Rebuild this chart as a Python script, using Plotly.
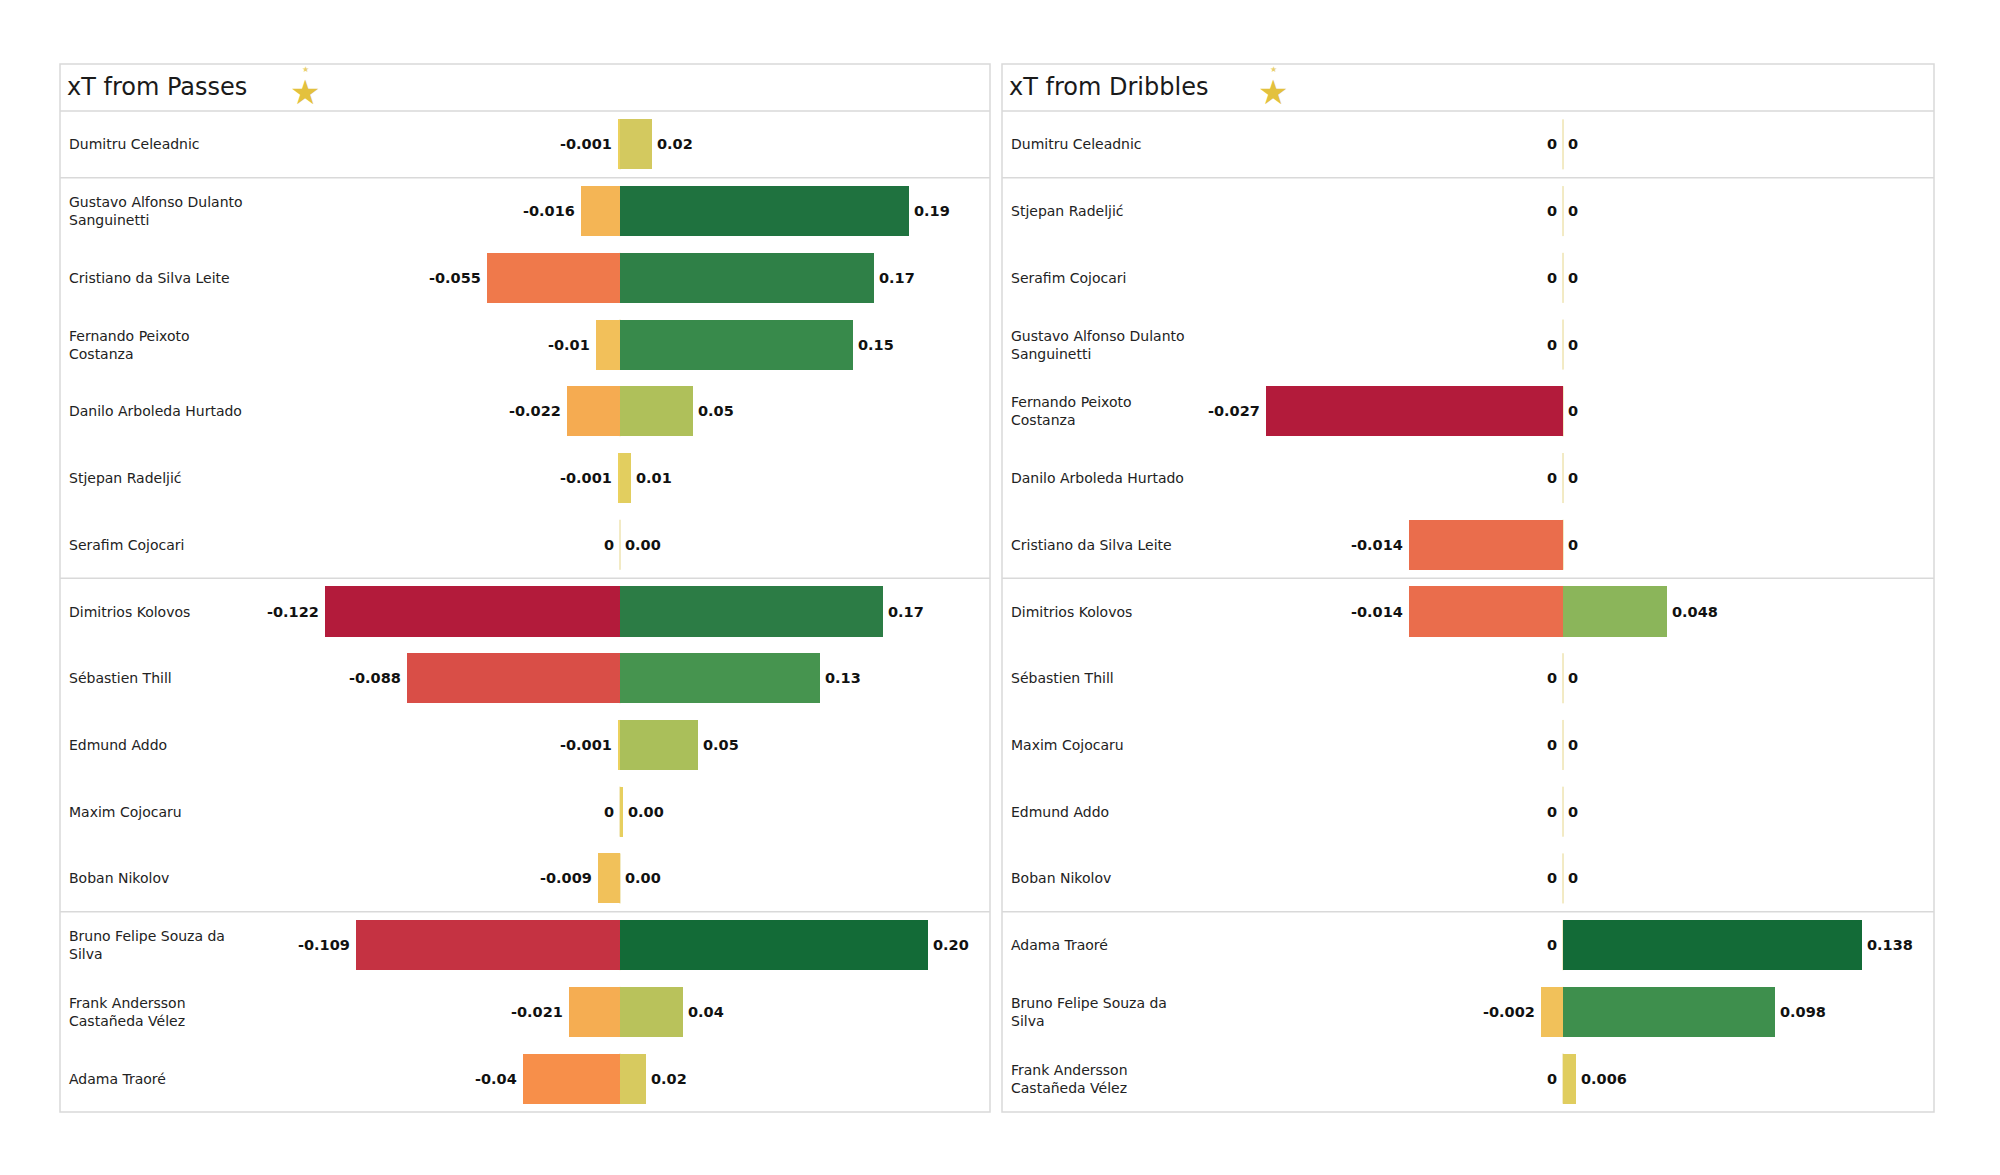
import plotly.graph_objects as go

# ---------------- data ----------------
passes_players = [
    "Dumitru Celeadnic",
    "Gustavo Alfonso Dulanto<br>Sanguinetti",
    "Cristiano da Silva Leite",
    "Fernando Peixoto<br>Costanza",
    "Danilo Arboleda Hurtado",
    "Stjepan Radeljić",
    "Serafim Cojocari",
    "Dimitrios Kolovos",
    "Sébastien Thill",
    "Edmund Addo",
    "Maxim Cojocaru",
    "Boban Nikolov",
    "Bruno Felipe Souza da<br>Silva",
    "Frank Andersson<br>Castañeda Vélez",
    "Adama Traoré",
]
passes_neg = [-0.001, -0.016, -0.055, -0.01, -0.022, -0.001, 0.0, -0.122, -0.088,
              -0.001, 0.0, -0.009, -0.109, -0.021, -0.04]
passes_pos = [0.021, 0.189, 0.166, 0.152, 0.048, 0.007, 0.0, 0.172, 0.131,
              0.051, 0.002, 0.0, 0.201, 0.041, 0.017]

dribble_players = [
    "Dumitru Celeadnic",
    "Stjepan Radeljić",
    "Serafim Cojocari",
    "Gustavo Alfonso Dulanto<br>Sanguinetti",
    "Fernando Peixoto<br>Costanza",
    "Danilo Arboleda Hurtado",
    "Cristiano da Silva Leite",
    "Dimitrios Kolovos",
    "Sébastien Thill",
    "Maxim Cojocaru",
    "Edmund Addo",
    "Boban Nikolov",
    "Adama Traoré",
    "Bruno Felipe Souza da<br>Silva",
    "Frank Andersson<br>Castañeda Vélez",
]
dribble_neg = [0.0, 0.0, 0.0, 0.0, -0.027, 0.0, -0.014, -0.014, 0.0, 0.0, 0.0, 0.0,
               0.0, -0.002, 0.0]
dribble_pos = [0.0, 0.0, 0.0, 0.0, 0.0, 0.0, 0.0, 0.048, 0.0, 0.0, 0.0, 0.0,
               0.138, 0.098, 0.006]

group_sizes = [1, 6, 5, 3]

# ---------------- layout constants ----------------
W, H = 2000, 1175
OFF = 8          # page body margin of the html page
PANEL_TOP = 64
PLOT_TOP = 111
PLOT_BOTTOM = 1112
BAR_W = 0.75
FONT = "DejaVu Sans"

neg_scale = [[0, "#ead35f"], [0.08, "#f2c05a"], [0.17, "#f5ad52"], [0.33, "#f78f4a"],
             [0.5, "#ec704c"], [0.72, "#d94e47"], [0.89, "#c63342"], [1, "#b31b3b"]]
pos_scale = [[0, "#e9d05f"], [0.1, "#d4c95f"], [0.24, "#afc05a"], [0.35, "#8ab55a"],
             [0.5, "#67a555"], [0.65, "#46944f"], [0.76, "#378a4b"], [0.86, "#2b7b45"],
             [0.94, "#1f723f"], [1, "#136b37"]]


def px(x):
    return (x - OFF) / W


def py(y):
    return 1 - (y - OFF) / H


def fmt_raw(v):
    s = f"{round(v, 3):g}"
    return "0" if s in ("-0", "0") else s


panels = [
    dict(title="xT from Passes", players=passes_players, neg=passes_neg, pos=passes_pos,
         left=60, right=990, zero=620, neg_ppu=2418.0, pos_ppu=1530.0,
         pos_fmt=lambda v: f"{v:.2f}", logo=305,
         xn="x", xp="x2", yy="y"),
    dict(title="xT from Dribbles", players=dribble_players, neg=dribble_neg, pos=dribble_pos,
         left=1002, right=1934, zero=1563, neg_ppu=11000.0, pos_ppu=2165.0,
         pos_fmt=fmt_raw, logo=1273,
         xn="x3", xp="x4", yy="y2"),
]

fig = go.Figure()
shapes = []
annotations = []
ydom = [py(PLOT_BOTTOM), py(PLOT_TOP)]
BORDER = "#d9d9d9"

for k, p in enumerate(panels):
    n = len(p["players"])
    rows = list(range(n))
    xdom = [px(p["left"]), px(p["right"])]
    neg_range = [(p["left"] - p["zero"]) / p["neg_ppu"], (p["right"] - p["zero"]) / p["neg_ppu"]]
    pos_range = [(p["left"] - p["zero"]) / p["pos_ppu"], (p["right"] - p["zero"]) / p["pos_ppu"]]
    xn_name = "xaxis" if p["xn"] == "x" else "xaxis" + p["xn"][1:]
    xp_name = "xaxis" + p["xp"][1:]
    y_name = "yaxis" if p["yy"] == "y" else "yaxis" + p["yy"][1:]

    neg_abs = [abs(v) for v in p["neg"]]
    fig.add_trace(go.Bar(
        y=rows, x=p["neg"], orientation="h", width=BAR_W,
        xaxis=p["xn"], yaxis=p["yy"],
        marker=dict(color=neg_abs, colorscale=neg_scale, cmin=0, cmax=max(neg_abs),
                    line=dict(width=0)),
        showlegend=False, hoverinfo="skip"))
    fig.add_trace(go.Bar(
        y=rows, x=p["pos"], orientation="h", width=BAR_W,
        xaxis=p["xp"], yaxis=p["yy"],
        marker=dict(color=p["pos"], colorscale=pos_scale, cmin=0, cmax=max(p["pos"]),
                    line=dict(width=0)),
        showlegend=False, hoverinfo="skip"))

    axis_common = dict(visible=False, showgrid=False, zeroline=False, fixedrange=True)
    fig.update_layout(**{
        xn_name: dict(domain=xdom, range=neg_range, anchor=p["yy"], **axis_common),
        xp_name: dict(domain=xdom, range=pos_range, anchor=p["yy"], overlaying=p["xn"],
                      **axis_common),
        y_name: dict(domain=ydom, range=[n - 0.5, -0.5], anchor=p["xn"], **axis_common),
    })

    # zero baseline ticks per row
    for i in rows:
        shapes.append(dict(type="line", xref=p["xn"], yref=p["yy"], x0=0, x1=0,
                           y0=i - BAR_W / 2, y1=i + BAR_W / 2,
                           line=dict(color="#e6d68a", width=1), layer="below"))

    # group separators
    acc = 0
    for g in group_sizes[:-1]:
        acc += g
        shapes.append(dict(type="line", xref="paper", yref=p["yy"],
                           x0=px(p["left"]), x1=px(p["right"]), y0=acc - 0.5, y1=acc - 0.5,
                           line=dict(color=BORDER, width=1.5), layer="below"))
    # header separator and panel border
    shapes.append(dict(type="line", xref="paper", yref="paper",
                       x0=px(p["left"]), x1=px(p["right"]),
                       y0=py(PLOT_TOP), y1=py(PLOT_TOP),
                       line=dict(color=BORDER, width=1.5), layer="below"))
    shapes.append(dict(type="rect", xref="paper", yref="paper",
                       x0=px(p["left"]), x1=px(p["right"]),
                       y0=py(PLOT_BOTTOM), y1=py(PANEL_TOP),
                       line=dict(color=BORDER, width=1.5), layer="below"))

    # title and logo
    annotations.append(dict(xref="paper", yref="paper", x=px(p["left"] + 5),
                            y=py(87), xanchor="left", yanchor="middle",
                            text=p["title"], showarrow=False,
                            font=dict(family=FONT, size=24, color="#1a1a1a")))
    annotations.append(dict(xref="paper", yref="paper", x=px(p["logo"]), y=py(92),
                            xanchor="center", yanchor="middle", text="★", showarrow=False,
                            font=dict(family=FONT, size=34, color="#e3c13e")))
    annotations.append(dict(xref="paper", yref="paper", x=px(p["logo"]), y=py(70),
                            xanchor="center", yanchor="middle", text="★", showarrow=False,
                            font=dict(family=FONT, size=8, color="#e8cf70")))

    # player names
    for i, name in enumerate(p["players"]):
        annotations.append(dict(xref="paper", yref=p["yy"], x=px(p["left"] + 7), y=i,
                                xanchor="left", yanchor="middle", align="left",
                                text=name, showarrow=False,
                                font=dict(family=FONT, size=14, color="#222222")))
    # value labels
    for i, (vn, vp) in enumerate(zip(p["neg"], p["pos"])):
        annotations.append(dict(xref=p["xn"], yref=p["yy"], x=vn, y=i,
                                xanchor="right", yanchor="middle", xshift=-4,
                                text=f"<b>{fmt_raw(vn)}</b>", showarrow=False,
                                font=dict(family=FONT, size=14.5, color="#111111")))
        annotations.append(dict(xref=p["xp"], yref=p["yy"], x=vp, y=i,
                                xanchor="left", yanchor="middle", xshift=3,
                                text=f"<b>{p['pos_fmt'](vp)}</b>", showarrow=False,
                                font=dict(family=FONT, size=14.5, color="#111111")))

fig.update_layout(
    width=W, height=H,
    margin=dict(l=0, r=0, t=0, b=0),
    paper_bgcolor="white", plot_bgcolor="rgba(0,0,0,0)",
    barmode="overlay", bargap=0,
    shapes=shapes, annotations=annotations,
    font=dict(family=FONT),
    showlegend=False,
)

fig.write_html("out.html")
